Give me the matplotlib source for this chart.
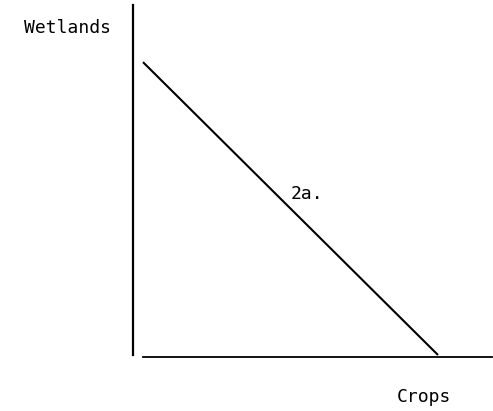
import matplotlib
matplotlib.use("Agg")
import matplotlib.pyplot as plt

# Data: straight production-possibility line between crops and wetlands
crops = [0, 100]
wetlands = [100, 0]
x_label = "Crops"
y_label = "Wetlands"
line_label = "2a."

W, H = 493, 411
fig = plt.figure(figsize=(W / 100, H / 100), dpi=100)
fig.patch.set_facecolor("white")

# axes box in pixels: left 133, right 492, top 5, bottom 357
ax = fig.add_axes([133 / W, (H - 357) / H, (492 - 133) / W, (357 - 5) / H])
ax.set_facecolor("white")
ax.plot(crops, wetlands, color="black", lw=1.5, solid_capstyle="butt")

ax.set_xlim(-3.39, 118.3)
ax.set_ylim(-0.68, 119.5)

for s in ["top", "right"]:
    ax.spines[s].set_visible(False)
ax.spines["left"].set_linewidth(1.6)
ax.spines["bottom"].set_linewidth(1.3)
ax.spines["left"].set_bounds(0, 119.5)
ax.spines["bottom"].set_bounds(0, 118.3)
ax.set_xticks([])
ax.set_yticks([])

mono = dict(family="DejaVu Sans Mono", color="black")
fig.text(68 / W, 1 - 28 / H, y_label, ha="center", va="center", fontsize=13, **mono)
fig.text(424 / W, 1 - 397 / H, x_label, ha="center", va="center", fontsize=13, **mono)
ax.text(55.5, 55, line_label, ha="center", va="center", fontsize=13, **mono)

fig.savefig("out.png", dpi=100, facecolor="white")
